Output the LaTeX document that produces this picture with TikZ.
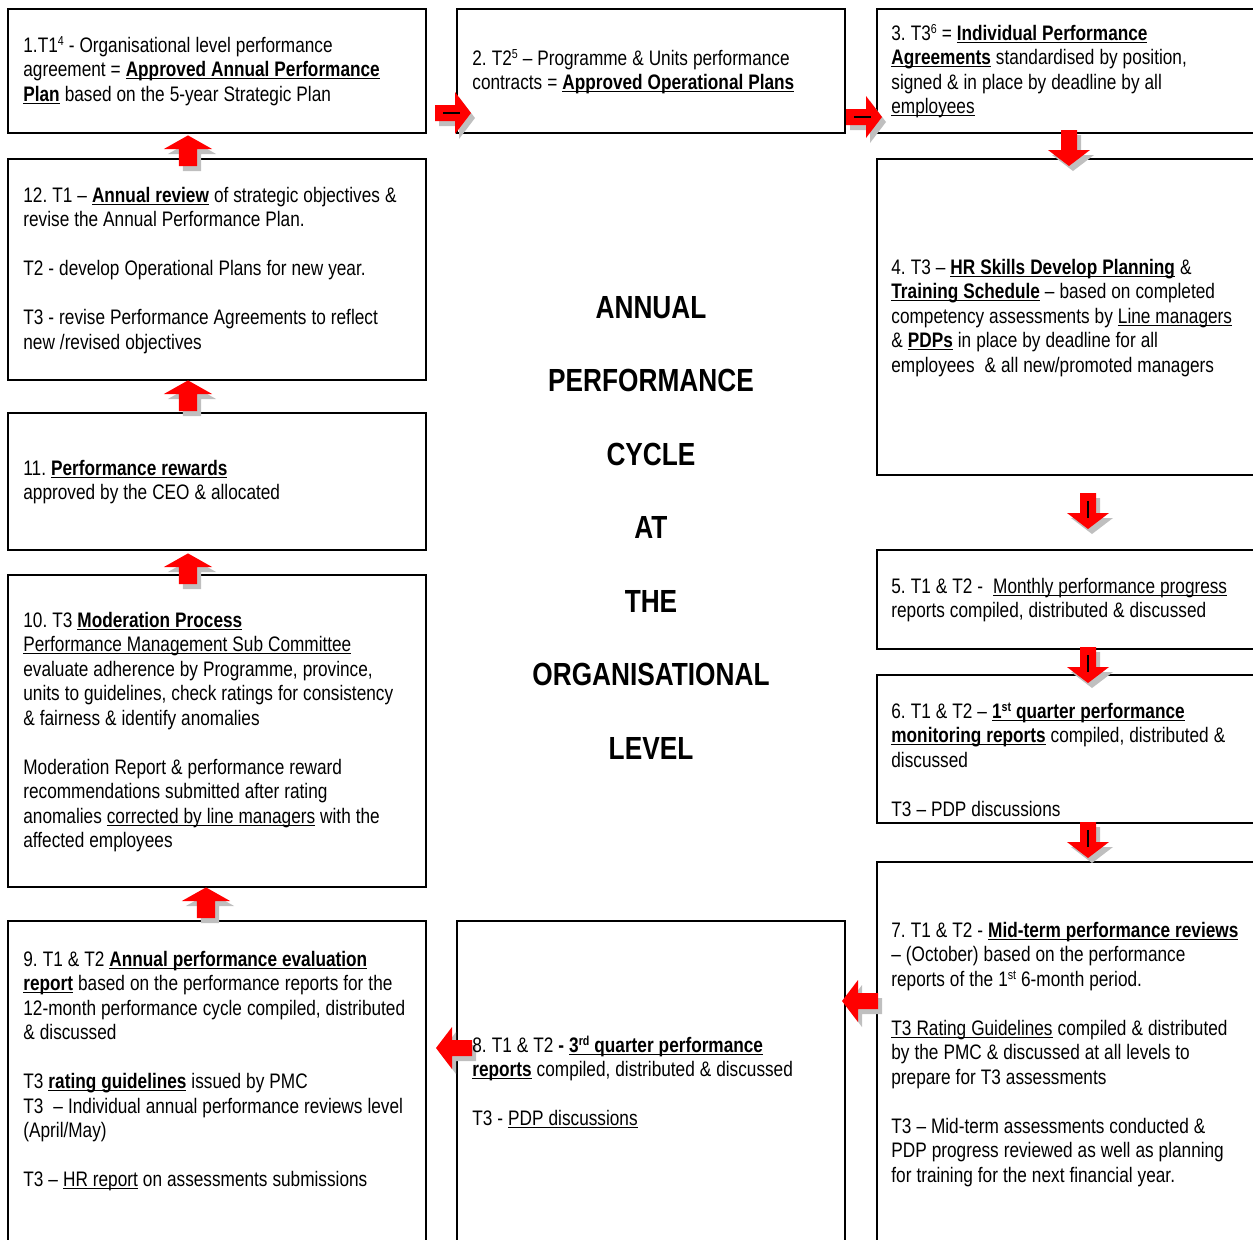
\documentclass[tikz,border=0pt]{standalone}
\usepackage{fontspec}
\setmainfont{Liberation Sans}[FakeStretch=0.82]
\usetikzlibrary{fit}
\colorlet{arrowred}{red}
\colorlet{shadowgray}{black!25}
\newsavebox{\ulbox}
\newcommand{\uln}[1]{\leavevmode\sbox{\ulbox}{#1}\rlap{\rule[-1.4pt]{\wd\ulbox}{0.6pt}}\usebox{\ulbox}}
\newcommand{\ubf}[1]{\uln{\textbf{#1}}}
\newcommand{\sups}[1]{\raisebox{0.55ex}{\fontsize{6.5}{7}\selectfont #1}}
\newcommand{\blankline}{\\[12.25pt]}
\newcommand{\tightspaces}{\setlength{\spaceskip}{2.5pt plus 0.5pt minus 0.3pt}\setlength{\xspaceskip}{2.5pt plus 0.5pt}}
\newcommand{\redarrow}[3][]{%
  \path #2 pic[shift={(4,5)}, rotate=#3, #1, fill=shadowgray] {arrowbody};
  \path #2 pic[rotate=#3, #1, fill=arrowred] {arrowbody};}
\tikzset{
  boxframe/.style={draw, line width=1pt, inner sep=0pt},
  boxtext/.style={anchor=base west, inner sep=0pt, align=left, text width=220pt,
    font=\fontsize{10.5}{12.25}\selectfont, execute at begin node=\tightspaces},
  cycletitle/.style={anchor=base, inner sep=0pt, align=center,
    font=\fontsize{16}{36.75}\selectfont\bfseries},
  arrowbody/.pic={\path[pic actions] (0,-8) -- (20,-8) -- (20,-21) -- (36,0)
    -- (20,21) -- (20,8) -- (0,8) -- cycle;},
  arrowmark/.pic={\draw[line width=0.7pt] (8,0) -- (25,0);}
}

\begin{document}
\begin{tikzpicture}[x=0.5pt,y=-0.5pt]
  \useasboundingbox (0,0) rectangle (1253,1239);
  \clip (0,0) rectangle (1253,1239);
  % frames
  \node[boxframe, fit={(8,9) (426,133)}] (b1) {};
  \node[boxframe, fit={(457,9) (845,133)}] (b2) {};
  \node[boxframe, fit={(877,9) (1270,133)}] (b3) {};
  \node[boxframe, fit={(877,159) (1270,475)}] (b4) {};
  \node[boxframe, fit={(877,550) (1270,649)}] (b5) {};
  \node[boxframe, fit={(877,675) (1270,823)}] (b6) {};
  \node[boxframe, fit={(877,862) (1270,1260)}] (b7) {};
  \node[boxframe, fit={(457,921) (845,1260)}] (b8) {};
  \node[boxframe, fit={(8,921) (426,1260)}] (b9) {};
  \node[boxframe, fit={(8,575) (426,887)}] (b10) {};
  \node[boxframe, fit={(8,413) (426,550)}] (b11) {};
  \node[boxframe, fit={(8,159) (426,380)}] (b12) {};
  % arrows along the top
  \redarrow{(435,113)}{0}
  \path (435,113) pic {arrowmark};
  \redarrow{(846,117)}{0}
  \path (846,117) pic {arrowmark};
  % arrows down the right
  \redarrow{(1069,130)}{-90}
  \redarrow{(1088,493)}{-90}
  \path (1088,493) pic[rotate=-90] {arrowmark};
  \redarrow{(1088,647)}{-90}
  \path (1088,647) pic[rotate=-90] {arrowmark};
  \redarrow{(1088,822)}{-90}
  \path (1088,822) pic[rotate=-90] {arrowmark};
  % arrows along the bottom
  \redarrow{(878,1001)}{180}
  \redarrow{(472,1048)}{180}
  % arrows up the left
  \redarrow[xscale=0.85, yscale=1.15]{(206,918)}{90}
  \redarrow[xscale=0.85, yscale=1.15]{(188,584)}{90}
  \redarrow[xscale=0.85, yscale=1.15]{(188,411)}{90}
  \redarrow[xscale=0.85, yscale=1.15]{(188,166)}{90}
  % texts
  \node[boxtext] (t1) at (23,52) {1.T1\sups{4} - Organisational level performance\\
    agreement = \ubf{Approved Annual Performance}\\
    \ubf{Plan} based on the 5-year Strategic Plan};
  \node[boxtext] (t2) at (472,65) {2. T2\sups{5} – Programme \& Units performance\\
    contracts = \ubf{Approved Operational Plans}};
  \node[boxtext] (t3) at (891,40) {3. T3\sups{6} = \ubf{Individual Performance}\\
    \ubf{Agreements} standardised by position,\\
    signed \& in place by deadline by all\\
    \uln{employees}};
  \node[boxtext] (t4) at (891,274) {4. T3 – \ubf{HR Skills Develop Planning} \&\\
    \ubf{Training Schedule} – based on completed\\
    competency assessments by \uln{Line managers}\\
    \& \ubf{PDPs} in place by deadline for all\\
    employees\ \ \& all new/promoted managers};
  \node[boxtext] (t5) at (891,593) {5. T1 \& T2 -\ \ \uln{Monthly performance progress}\\
    reports compiled, distributed \& discussed};
  \node[boxtext] (t6) at (891,718) {6. T1 \& T2 – \ubf{1\sups{st} quarter performance}\\
    \ubf{monitoring reports} compiled, distributed \&\\
    discussed\blankline
    T3 – PDP discussions};
  \node[boxtext] (t7) at (891,937) {7. T1 \& T2 - \ubf{Mid-term performance reviews}\\
    – (October) based on the performance\\
    reports of the 1\sups{st} 6-month period.\blankline
    \uln{T3 Rating Guidelines} compiled \& distributed\\
    by the PMC \& discussed at all levels to\\
    prepare for T3 assessments\blankline
    T3 – Mid-term assessments conducted \&\\
    PDP progress reviewed as well as planning\\
    for training for the next financial year.};
  \node[boxtext] (t8) at (472,1052) {8. T1 \& T2 \textbf{- }\ubf{3\sups{rd} quarter performance}\\
    \ubf{reports} compiled, distributed \& discussed\blankline
    T3 - \uln{PDP discussions}};
  \node[boxtext] (t9) at (23,966) {9. T1 \& T2 \ubf{Annual performance evaluation}\\
    \ubf{report} based on the performance reports for the\\
    12-month performance cycle compiled, distributed\\
    \& discussed\blankline
    T3 \ubf{rating guidelines} issued by PMC\\
    T3\ \ – Individual annual performance reviews level\\
    (April/May)\blankline
    T3 – \uln{HR report} on assessments submissions};
  \node[boxtext] (t10) at (23,627) {10. T3 \ubf{Moderation Process}\\
    \uln{Performance Management Sub Committee}\\
    evaluate adherence by Programme, province,\\
    units to guidelines, check ratings for consistency\\
    \& fairness \& identify anomalies\blankline
    Moderation Report \& performance reward\\
    recommendations submitted after rating\\
    anomalies \uln{corrected by line managers} with the\\
    affected employees};
  \node[boxtext] (t11) at (23,475) {11. \ubf{Performance rewards}\\
    approved by the CEO \& allocated};
  \node[boxtext] (t12) at (23,202) {12. T1 – \ubf{Annual review} of strategic objectives \&\\
    revise the Annual Performance Plan.\blankline
    T2 - develop Operational Plans for new year.\blankline
    T3 - revise Performance Agreements to reflect\\
    new /revised objectives};
  % centre
  \node[cycletitle] (cycle) at (651,759) {ANNUAL\\PERFORMANCE\\CYCLE\\AT\\THE\\ORGANISATIONAL\\LEVEL};
\end{tikzpicture}
\end{document}
